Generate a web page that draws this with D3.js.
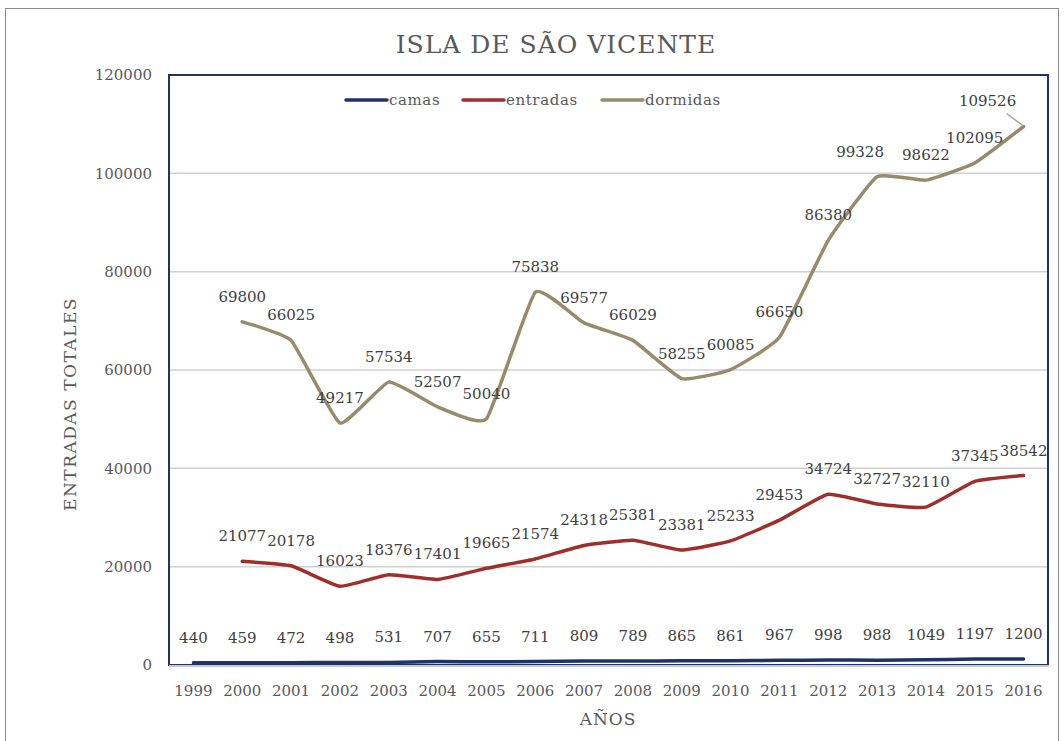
<!DOCTYPE html>
<meta charset="utf-8">
<style>
  body { margin: 0; background: #fff; }
  text { font-family: "DejaVu Serif", serif; }
</style>
<body>
<script src="https://cdn.jsdelivr.net/npm/d3@7"></script>
<script>

var years = d3.range(1999, 2017);
var yTicks = [0, 20000, 40000, 60000, 80000, 100000, 120000];

// null = no data that year
var camas = [440, 459, 472, 498, 531, 707, 655, 711, 809, 789, 865, 861, 967, 998, 988, 1049, 1197, 1200];
var entradas = [null, 21077, 20178, 16023, 18376, 17401, 19665, 21574, 24318, 25381, 23381, 25233, 29453, 34724, 32727, 32110, 37345, 38542];
var dormidas = [null, 69800, 66025, 49217, 57534, 52507, 50040, 75838, 69577, 66029, 58255, 60085, 66650, 86380, 99328, 98622, 102095, 109526];

var series = [
    {name: 'camas', values: camas, color: '#1f3366'},
    {name: 'entradas', values: entradas, color: '#9e2f2a'},
    {name: 'dormidas', values: dormidas, color: '#978b6b'}
];

var W = 1064, H = 741;
var plot = {left: 169, top: 75, right: 1048, bottom: 665};

var svg = d3.select('body').append('svg')
    .attr('width', W)
    .attr('height', H);

// outer frame
svg.append('rect')
    .attr('x', 5.5).attr('y', 8.5)
    .attr('width', 1053).attr('height', 760)
    .attr('fill', '#fff')
    .attr('stroke', '#8c8c8c')
    .attr('stroke-width', 1);

var x = d3.scaleBand()
    .domain(years)
    .range([plot.left, plot.right]);

var y = d3.scaleLinear()
    .domain([0, 120000])
    .range([plot.bottom, plot.top]);

function cx(yr) { return x(yr) + x.bandwidth() / 2; }

// gridlines
svg.append('g').selectAll('line')
    .data(yTicks.slice(1))
    .enter().append('line')
    .attr('x1', plot.left).attr('x2', plot.right)
    .attr('y1', function(d) { return y(d); })
    .attr('y2', function(d) { return y(d); })
    .attr('stroke', '#d0d0d0')
    .attr('stroke-width', 1.5);

// plot area border
svg.append('rect')
    .attr('x', plot.left).attr('y', plot.top)
    .attr('width', plot.right - plot.left)
    .attr('height', plot.bottom - plot.top)
    .attr('fill', 'none')
    .attr('stroke', '#1f3366')
    .attr('stroke-width', 2);

// x axis line
svg.append('line')
    .attr('x1', plot.left).attr('x2', plot.right + 1)
    .attr('y1', y(0) + 1).attr('y2', y(0) + 1)
    .attr('stroke', '#c8c8c8')
    .attr('stroke-width', 2);

// y tick labels
svg.append('g').selectAll('text')
    .data(yTicks)
    .enter().append('text')
    .attr('x', 152)
    .attr('y', function(d) { return y(d); })
    .attr('dy', '0.35em')
    .attr('text-anchor', 'end')
    .attr('fill', '#595959')
    .style('font-size', '15px')
    .text(function(d) { return d; });

// x tick labels
svg.append('g').selectAll('text')
    .data(years)
    .enter().append('text')
    .attr('x', function(d) { return cx(d); })
    .attr('y', 696)
    .attr('text-anchor', 'middle')
    .attr('fill', '#595959')
    .style('font-size', '15px')
    .text(function(d) { return d; });

// lines
var line = d3.line()
    .defined(function(d) { return d.v != null; })
    .x(function(d) { return cx(d.year); })
    .y(function(d) { return y(d.v); })
    .curve(d3.curveCardinal.tension(0.6));

series.forEach(function(s) {
    var pts = years.map(function(yr, i) { return {year: yr, v: s.values[i]}; });

    svg.append('path')
        .datum(pts)
        .attr('d', line)
        .attr('fill', 'none')
        .attr('stroke', s.color)
        .attr('stroke-width', 3.5)
        .attr('stroke-linejoin', 'round')
        .attr('stroke-linecap', 'round');

    svg.append('g').selectAll('text')
        .data(pts.filter(function(d) { return d.v != null; }))
        .enter().append('text')
        .attr('x', function(d) {
            var dx = 0;
            if (s.name == 'dormidas' && d.year == 2013) dx = -17;
            if (s.name == 'dormidas' && d.year == 2016) dx = -36;
            return cx(d.year) + dx;
        })
        .attr('y', function(d) { return y(d.v) - 20; })
        .attr('text-anchor', 'middle')
        .attr('fill', '#404040')
        .style('font-size', '15px')
        .text(function(d) { return d.v; });
});

// leader line for the last dormidas label
svg.append('line')
    .attr('x1', cx(2016) - 17).attr('y1', y(109526) - 13)
    .attr('x2', cx(2016) - 1).attr('y2', y(109526) - 1)
    .attr('stroke', '#a6a6a6')
    .attr('stroke-width', 1.5);

// legend
var legendX = [346, 463, 602];
var legend = svg.append('g');
series.forEach(function(s, i) {
    legend.append('line')
        .attr('x1', legendX[i]).attr('x2', legendX[i] + 41)
        .attr('y1', 100).attr('y2', 100)
        .attr('stroke', s.color)
        .attr('stroke-width', 3.5)
        .attr('stroke-linecap', 'round');
    legend.append('text')
        .attr('x', legendX[i] + 43)
        .attr('y', 100)
        .attr('dy', '0.35em')
        .attr('fill', '#595959')
        .style('font-size', '15px')
        .style('letter-spacing', '0.6px')
        .text(s.name);
});

// title
svg.append('text')
    .attr('x', 556)
    .attr('y', 53)
    .attr('text-anchor', 'middle')
    .attr('fill', '#595959')
    .style('font-size', '25px')
    .style('letter-spacing', '1px')
    .text('ISLA DE SÃO VICENTE');

// axis titles
svg.append('text')
    .attr('transform', 'translate(76,404) rotate(-90)')
    .attr('text-anchor', 'middle')
    .attr('fill', '#595959')
    .style('font-size', '17px')
    .style('letter-spacing', '1.5px')
    .text('ENTRADAS TOTALES');

svg.append('text')
    .attr('x', 608)
    .attr('y', 725)
    .attr('text-anchor', 'middle')
    .attr('fill', '#595959')
    .style('font-size', '17px')
    .style('letter-spacing', '1px')
    .text('AÑOS');

</script>
</body>
